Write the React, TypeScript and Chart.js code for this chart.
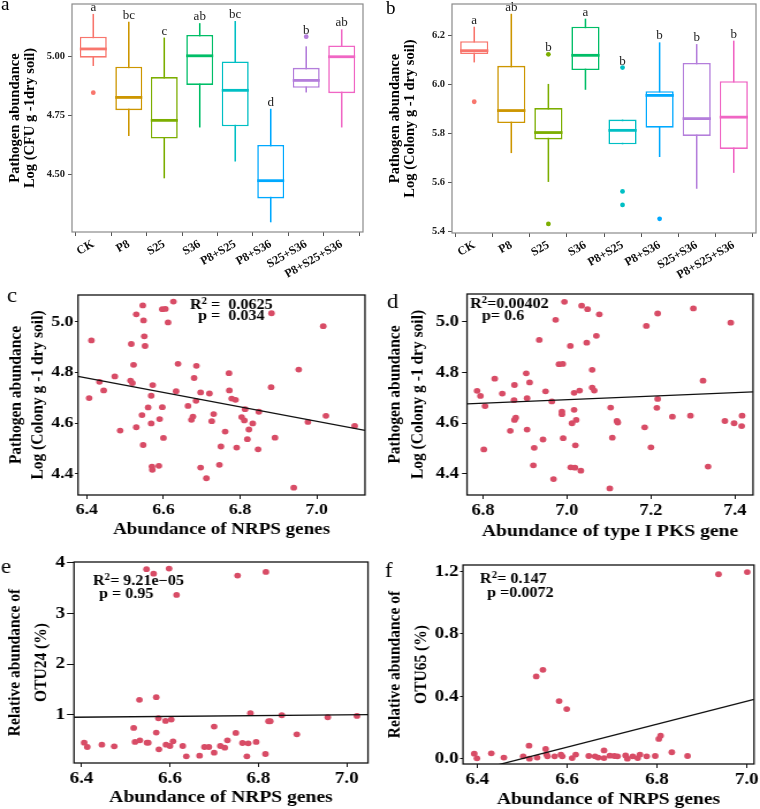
import React, { useEffect, useRef } from "react";
import { Chart, registerables } from "chart.js";

Chart.register(...registerables);

const SERIF = "'Liberation Serif', 'Times New Roman', Times, serif";

// ---------------- panels a / b : box plots ----------------
const groups = ["CK", "P8", "S25", "S36", "P8+S25", "P8+S36", "S25+S36", "P8+S25+S36"];
const groupColors = ["#F8766D", "#CD9600", "#7CAE00", "#00BE67", "#00BFC4", "#00A9FF", "#B47EDB", "#F066C4"];

const aLower = [4.958, 4.662, 4.483, 4.698, 4.554, 4.297, 4.846, 4.698];
const aQ1 = [4.993, 4.771, 4.651, 4.878, 4.703, 4.398, 4.866, 4.843];
const aMedian = [5.03, 4.825, 4.728, 5.001, 4.855, 4.473, 4.897, 4.997];
const aQ3 = [5.082, 4.955, 4.911, 5.089, 4.977, 4.624, 4.95, 5.045];
const aUpper = [5.178, 5.145, 5.078, 5.139, 5.148, 4.777, 5.041, 5.113];
const aOutliers = [[4.845], [], [], [], [], [], [5.082], []];
const aLetters = ["a", "bc", "c", "ab", "bc", "d", "b", "ab"];
const aYTicks = [4.5, 4.75, 5.0];

const bLower = [6.091, 5.72, 5.602, 5.979, 5.756, 5.704, 5.574, 5.639];
const bQ1 = [6.125, 5.843, 5.776, 6.06, 5.756, 5.824, 5.79, 5.737];
const bMedian = [6.139, 5.894, 5.804, 6.12, 5.813, 5.956, 5.861, 5.867];
const bQ3 = [6.178, 6.077, 5.904, 6.237, 5.857, 5.973, 6.089, 6.014];
const bUpper = [6.237, 6.29, 6.003, 6.27, 5.857, 6.173, 6.166, 6.18];
const bOutliers = [[5.93], [], [6.124, 5.43], [], [6.07, 5.563, 5.508], [5.451], [], []];
const bLetters = ["a", "ab", "b", "a", "b", "b", "b", "b"];
const bYTicks = [5.4, 5.6, 5.8, 6.0, 6.2];

// ---------------- panel c ----------------
const cNRPS = [
  6.406, 6.412, 6.433, 6.444, 6.473, 6.487, 6.516, 6.514, 6.519, 6.522,
  6.529, 6.544, 6.547, 6.55, 6.552, 6.548, 6.56, 6.568, 6.568, 6.572,
  6.57, 6.571, 6.588, 6.59, 6.597, 6.6, 6.612, 6.633, 6.638, 6.664,
  6.673, 6.677, 6.68, 6.685, 6.686, 6.697, 6.697, 6.712, 6.72, 6.726,
  6.731, 6.746, 6.75, 6.761, 6.771, 6.772, 6.778, 6.788, 6.791, 6.804,
  6.811, 6.813, 6.819, 6.823, 6.833, 6.847, 6.849, 6.881, 6.891, 6.953,
  6.977, 7.017, 7.024, 6.94, 7.099,
  6.529, 6.546, 6.597, 6.605, 6.626, 6.882,
];
const cPathogen = [
  4.699, 4.926, 4.763, 4.729, 4.784, 4.571, 4.912, 4.768, 4.758, 4.83,
  4.584, 4.632, 4.514, 4.942, 4.904, 5.005, 4.662, 4.708, 4.599, 4.75,
  4.429, 4.416, 4.432, 4.616, 4.663, 4.542, 4.997, 4.726, 4.834, 4.668,
  4.613, 4.626, 4.778, 4.688, 4.826, 4.721, 4.425, 4.383, 4.717, 4.608,
  4.636, 4.436, 4.508, 4.567, 4.797, 4.729, 4.697, 4.692, 4.504, 4.624,
  4.611, 4.655, 4.537, 4.575, 4.599, 4.497, 4.645, 4.742, 4.543, 4.811,
  4.605, 4.982, 4.629, 4.346, 4.589,
  5.029, 5.064, 5.049, 5.05, 5.079, 5.033,
];
const cFit = [6.595, -0.284]; // intercept, slope
const cXTicks = [6.4, 6.6, 6.8, 7.0];
const cYTicks = [4.4, 4.6, 4.8, 5.0];

// ---------------- panel d ----------------
const dPKS = [
  6.786, 6.794, 6.805, 6.802, 6.828, 6.846, 6.865, 6.875, 6.874, 6.875,
  6.878, 6.903, 6.905, 6.905, 6.911, 6.922, 6.92, 6.943, 6.949, 6.964,
  6.968, 6.988, 6.988, 6.991, 7.009, 7.019, 7.033, 7.012, 7.017, 7.017,
  7.02, 7.022, 7.03, 7.06, 7.065, 7.06, 7.104, 7.108, 7.102, 7.119,
  7.121, 7.185, 7.2, 7.216, 7.214, 7.251, 7.294, 7.324, 7.336, 7.376,
  7.398, 7.416, 7.417,
  6.934, 7.008, 7.047, 7.07, 6.981, 6.99, 7.189, 7.39,
  6.994, 7.035, 7.049, 7.077, 6.973, 7.216, 7.301,
];
const dPathogen = [
  4.728, 4.708, 4.668, 4.497, 4.776, 4.717, 4.57, 4.751, 4.691, 4.613,
  4.622, 4.797, 4.699, 4.575, 4.761, 4.503, 4.434, 4.536, 4.726, 4.686,
  4.38, 4.646, 4.636, 4.541, 4.426, 4.425, 4.413, 4.6, 4.653, 4.72,
  4.513, 4.613, 4.729, 4.741, 4.729, 4.811, 4.662, 4.543, 4.343, 4.609,
  4.603, 4.584, 4.505, 4.696, 4.661, 4.626, 4.63, 4.768, 4.429, 4.609,
  4.6, 4.589, 4.63,
  4.929, 4.905, 4.918, 4.945, 4.833, 4.834, 4.984, 4.997,
  5.079, 5.064, 5.05, 5.03, 5.008, 5.033, 5.053,
];
const dFit = [4.203, 0.07];
const dXTicks = [6.8, 7.0, 7.2, 7.4];
const dYTicks = [4.4, 4.6, 4.8, 5.0];

// ---------------- panel e ----------------
const eNRPS = [
  6.406, 6.413, 6.446, 6.474, 6.518, 6.521, 6.532, 6.531, 6.548, 6.551,
  6.569, 6.569, 6.574, 6.575, 6.59, 6.591, 6.6, 6.603, 6.607, 6.629,
  6.637, 6.667, 6.678, 6.688, 6.7, 6.7, 6.714, 6.724, 6.73, 6.749,
  6.764, 6.777, 6.774, 6.782, 6.795, 6.816, 6.823, 6.827, 6.853, 6.887,
  6.957, 7.023, 6.615,
  6.547, 6.563, 6.598, 6.753, 6.817,
];
const eOTU24 = [
  0.454, 0.368, 0.414, 0.382, 0.743, 0.467, 0.5, 1.296, 0.454, 0.454,
  1.349, 0.651, 0.934, 0.322, 0.882, 0.414, 0.388, 0.908, 0.48, 0.388,
  0.184, 0.197, 0.368, 0.368, 0.77, 0.257, 0.388, 0.355, 0.5, 0.645,
  0.447, 0.441, 0.184, 1.033, 0.467, 0.23, 0.875, 0.875, 0.993, 0.618,
  0.954, 0.98, 3.362,
  3.868, 3.781, 3.88, 3.742, 3.815,
];
const eFit = [0.443, 0.08];
const eXTicks = [6.4, 6.6, 6.8, 7.0];
const eYTicks = [1, 2, 3, 4];

// ---------------- panel f ----------------
const fNRPS = [
  6.393, 6.399, 6.431, 6.459, 6.502, 6.515, 6.516, 6.531, 6.533, 6.546,
  6.552, 6.554, 6.556, 6.572, 6.582, 6.586, 6.589, 6.599, 6.611, 6.619,
  6.648, 6.662, 6.669, 6.682, 6.682, 6.695, 6.705, 6.712, 6.73, 6.734,
  6.746, 6.757, 6.762, 6.777, 6.796, 6.804, 6.808, 6.833, 6.868,
  6.937, 7.001,
];
const fOTU65 = [
  0.034, 0.004, 0.036, 0.009, 0.017, 0.085, 0.002, 0.528, 0.009, 0.57,
  0.064, 0.03, 0.017, 0.017, 0.37, 0.028, 0.017, 0.319, 0.006, 0.028,
  0.019, 0.017, 0.009, 0.055, 0.006, 0.021, 0.019, 0.017, 0.023, 0.002,
  0.017, 0.006, 0.028, 0.017, 0.019, 0.128, 0.149, 0.043, 0.019,
  1.181, 1.195,
];
const fFit = [-4.775, 0.735];
const fXTicks = [6.4, 6.6, 6.8, 7.0];
const fYTicks = [0.0, 0.4, 0.8, 1.2];

// ---------------- plugins ----------------
function framePlugin(color: string, width: number) {
  return {
    id: "frame",
    afterDraw(chart: any) {
      const { ctx, chartArea } = chart;
      const { left, top, right, bottom } = chartArea;
      ctx.save();
      ctx.strokeStyle = color;
      ctx.lineWidth = width;
      ctx.strokeRect(left, top, right - left, bottom - top);
      ctx.restore();
    },
  };
}

function panelLabelPlugin(text: string, x: number, y: number, size: number) {
  return {
    id: "panelLabel",
    afterDraw(chart: any) {
      const { ctx } = chart;
      ctx.save();
      ctx.font = `${size}px ${SERIF}`;
      ctx.fillStyle = "#000";
      ctx.textAlign = "left";
      ctx.textBaseline = "alphabetic";
      ctx.fillText(text, x, y);
      ctx.restore();
    },
  };
}

function lettersPlugin(letters: string[], tops: number[]) {
  return {
    id: "sigLetters",
    afterDatasetsDraw(chart: any) {
      const { ctx, scales } = chart;
      ctx.save();
      ctx.font = `13px ${SERIF}`;
      ctx.fillStyle = "#222";
      ctx.textAlign = "center";
      ctx.textBaseline = "alphabetic";
      letters.forEach((t, i) => {
        ctx.fillText(t, scales.x.getPixelForValue(i + 1), scales.y.getPixelForValue(tops[i]) - 3);
      });
      ctx.restore();
    },
  };
}

type Part = { t: string; sup?: boolean };
type StatLine = { dx: number; dy: number; parts: Part[] };

function statPlugin(lines: StatLine[], size: number, k: number) {
  return {
    id: "statText",
    afterDraw(chart: any) {
      const { ctx, chartArea } = chart;
      ctx.save();
      ctx.fillStyle = "#000";
      ctx.textAlign = "left";
      ctx.textBaseline = "alphabetic";
      lines.forEach((ln) => {
        let x = chartArea.left + ln.dx / k;
        const y = chartArea.top + ln.dy;
        ln.parts.forEach((p) => {
          const s = p.sup ? size * 0.68 : size;
          ctx.font = `bold ${s}px ${SERIF}`;
          ctx.fillText(p.t, x, p.sup ? y - size * 0.36 : y);
          x += ctx.measureText(p.t).width;
        });
      });
      ctx.restore();
    },
  };
}

// ---------------- config builders ----------------
type Area = { left: number; top: number; right: number; bottom: number };

type BoxSpec = {
  lower: number[]; q1: number[]; median: number[]; q3: number[]; upper: number[];
  outliers: number[][]; letters: string[]; yTicks: number[]; yMin: number; yMax: number;
  decimals: number; yTitle: string[]; label: string; labelX: number; labelY: number;
  area: Area; W: number; H: number;
};

function boxConfig(s: BoxSpec) {
  const datasets: any[] = [];
  groups.forEach((g, i) => {
    datasets.push({
      type: "line",
      data: [{ x: i + 1, y: s.lower[i] }, { x: i + 1, y: s.upper[i] }],
      borderColor: groupColors[i], borderWidth: 1.6, pointRadius: 0, order: 3,
    });
  });
  datasets.push({
    type: "bar",
    data: groups.map((g, i) => ({ x: i + 1, y: [s.q1[i], s.q3[i]] })),
    backgroundColor: "#ffffff",
    borderColor: groupColors,
    borderWidth: 1.6,
    borderSkipped: false,
    categoryPercentage: 0.76,
    barPercentage: 1,
    order: 2,
  });
  groups.forEach((g, i) => {
    datasets.push({
      type: "line",
      data: [{ x: i + 1 - 0.38, y: s.median[i] }, { x: i + 1 + 0.38, y: s.median[i] }],
      borderColor: groupColors[i], borderWidth: 2.8, pointRadius: 0, order: 1,
    });
  });
  const outPts: any[] = [];
  const outCols: string[] = [];
  s.outliers.forEach((list, i) => list.forEach((v) => { outPts.push({ x: i + 1, y: v }); outCols.push(groupColors[i]); }));
  datasets.push({
    type: "scatter", data: outPts, backgroundColor: outCols, borderWidth: 0, pointRadius: 2.4, order: 0,
  });
  const tops = groups.map((g, i) => Math.max(s.upper[i], ...s.outliers[i]));

  const tickFont = { family: SERIF, size: 10.5, weight: "bold" as const };
  return {
    type: "scatter",
    data: { datasets },
    plugins: [lettersPlugin(s.letters, tops), framePlugin("#8a8a8a", 1.2), panelLabelPlugin(s.label, s.labelX, s.labelY, 19)],
    options: {
      animation: false,
      responsive: false,
      devicePixelRatio: 1,
      events: [],
      layout: { padding: { left: 0, top: s.area.top, right: s.W - s.area.right, bottom: 0 } },
      plugins: { legend: { display: false }, tooltip: { enabled: false } },
      scales: {
        x: {
          type: "linear", min: 0.4, max: 8.6, offset: false,
          afterBuildTicks: (sc: any) => { sc.ticks = groups.map((g, i) => ({ value: i + 1 })); },
          afterFit: (sc: any) => { sc.height = s.H - s.area.bottom; sc.paddingLeft = 0; sc.paddingRight = 0; },
          ticks: {
            autoSkip: false, minRotation: 30, maxRotation: 30, padding: 1, color: "#111",
            font: { family: SERIF, size: 12, weight: "bold" },
            callback: (v: number) => groups[Math.round(v) - 1] ?? "",
          },
          grid: { drawOnChartArea: false, drawTicks: true, tickLength: 4, tickColor: "#555", tickWidth: 1 },
          border: { display: false },
        },
        y: {
          type: "linear", min: s.yMin, max: s.yMax,
          afterBuildTicks: (sc: any) => { sc.ticks = s.yTicks.map((v) => ({ value: v })); },
          afterFit: (sc: any) => { sc.width = s.area.left; sc.paddingTop = 0; sc.paddingBottom = 0; },
          ticks: { padding: 3, color: "#222", font: tickFont, callback: (v: number) => Number(v).toFixed(s.decimals) },
          grid: { drawOnChartArea: false, drawTicks: true, tickLength: 4, tickColor: "#555", tickWidth: 1 },
          border: { display: false },
          title: {
            display: true, text: s.yTitle, color: "#000",
            font: { family: SERIF, size: 14.5, weight: "bold", lineHeight: 15 / 14.5 },
            padding: { top: 7.5, bottom: 0 },
          },
        },
      },
    },
  };
}

type ScatterSpec = {
  xs: number[]; ys: number[]; fit: number[];
  xMin: number; xMax: number; yMin: number; yMax: number;
  xTicks: number[]; yTicks: number[]; yDecimals: number;
  xTitle: string; xTitleSize: number; xTitleCenter: number;
  yTitle: string[]; yTitleSize: number; yLine1: number; yLine2: number;
  tickSize: number; yTickLen: number; yTickPad: number; xTickPad: number;
  area: Area; cssW: number; H: number;
  label: string; labelX: number; labelY: number;
  stats: StatLine[];
};

function scatterConfig(s: ScatterSpec, k: number) {
  const X = (v: number) => v / k;
  const lh = X(s.yLine2 - s.yLine1);
  const tickFont = { family: SERIF, size: s.tickSize, weight: "bold" as const };
  return {
    type: "scatter",
    data: {
      datasets: [
        {
          type: "line",
          data: [
            { x: s.xMin, y: s.fit[0] + s.fit[1] * s.xMin },
            { x: s.xMax, y: s.fit[0] + s.fit[1] * s.xMax },
          ],
          borderColor: "#111", borderWidth: 1.3, pointRadius: 0, order: 0,
        },
        {
          type: "scatter",
          data: s.xs.map((x, i) => ({ x, y: s.ys[i] })),
          backgroundColor: "#D84C66", borderWidth: 0, pointRadius: 2.9, order: 1,
        },
      ],
    },
    plugins: [
      framePlugin("#111", 1.3),
      statPlugin(s.stats, 14, k),
      panelLabelPlugin(s.label, X(s.labelX), s.labelY, 20),
    ],
    options: {
      animation: false,
      responsive: false,
      devicePixelRatio: 1,
      events: [],
      layout: { padding: { left: 0, top: s.area.top, right: X(s.cssW - s.area.right), bottom: 0 } },
      plugins: { legend: { display: false }, tooltip: { enabled: false } },
      scales: {
        x: {
          type: "linear", min: s.xMin, max: s.xMax,
          afterBuildTicks: (sc: any) => { sc.ticks = s.xTicks.map((v) => ({ value: v })); },
          afterFit: (sc: any) => { sc.height = s.H - s.area.bottom; sc.paddingLeft = 0; sc.paddingRight = 0; },
          ticks: {
            autoSkip: false, maxRotation: 0, minRotation: 0, padding: s.xTickPad, color: "#000",
            font: tickFont, callback: (v: number) => Number(v).toFixed(1),
          },
          grid: { drawOnChartArea: false, drawTicks: true, tickLength: 4, tickColor: "#111", tickWidth: 1 },
          border: { display: false },
          title: {
            display: true, text: s.xTitle, color: "#000",
            font: { family: SERIF, size: s.xTitleSize, weight: "bold", lineHeight: 1 },
            padding: { top: 0, bottom: Math.max(0, s.H - s.xTitleCenter - s.xTitleSize / 2) },
          },
        },
        y: {
          type: "linear", min: s.yMin, max: s.yMax,
          afterBuildTicks: (sc: any) => { sc.ticks = s.yTicks.map((v) => ({ value: v })); },
          afterFit: (sc: any) => { sc.width = X(s.area.left); sc.paddingTop = 0; sc.paddingBottom = 0; },
          ticks: { padding: X(s.yTickPad), color: "#000", font: tickFont, callback: (v: number) => Number(v).toFixed(s.yDecimals) },
          grid: { drawOnChartArea: false, drawTicks: true, tickLength: X(s.yTickLen), tickColor: "#111", tickWidth: 1 },
          border: { display: false },
          title: {
            display: true, text: s.yTitle, color: "#000",
            font: { family: SERIF, size: s.yTitleSize, weight: "bold", lineHeight: lh / s.yTitleSize },
            padding: { top: Math.max(0, X(s.yLine1) - lh / 2), bottom: 0 },
          },
        },
      },
    },
  };
}

// ---------------- components ----------------
function ChartCanvas(props: { left: number; top: number; width: number; height: number; sx: number; make: (k: number) => any }) {
  const { left, top, width, height, sx, make } = props;
  const ref = useRef<HTMLCanvasElement | null>(null);
  const iw = Math.round(width / sx);
  useEffect(() => {
    const k = width / iw;
    const chart = new Chart(ref.current as HTMLCanvasElement, make(k));
    return () => chart.destroy();
  }, []);
  return (
    <canvas
      ref={ref}
      width={iw}
      height={height}
      style={{ position: "absolute", left, top, width, height }}
    />
  );
}

const LOW_SX = 1.15;
const pathogenTitle = ["Pathogen abundance", "Log (Colony g -1 dry soil)"];

export default function App() {
  return (
    <div style={{ position: "absolute", left: 0, top: 0, width: 760, height: 809, background: "#fff", overflow: "hidden" }}>
      <ChartCanvas left={0} top={0} width={380} height={290} sx={1}
        make={() => boxConfig({
          lower: aLower, q1: aQ1, median: aMedian, q3: aQ3, upper: aUpper, outliers: aOutliers,
          letters: aLetters, yTicks: aYTicks, yMin: 4.256, yMax: 5.22, decimals: 2,
          yTitle: ["Pathogen abundance", "Log (CFU g -1dry soil)"], label: "a", labelX: 1, labelY: 10,
          area: { left: 72, top: 4, right: 363, bottom: 232 }, W: 380, H: 290,
        })} />
      <ChartCanvas left={380} top={0} width={380} height={290} sx={1}
        make={() => boxConfig({
          lower: bLower, q1: bQ1, median: bMedian, q3: bQ3, upper: bUpper, outliers: bOutliers,
          letters: bLetters, yTicks: bYTicks, yMin: 5.393, yMax: 6.33, decimals: 1,
          yTitle: ["Pathogen abundance", "Log (Colony g -1 dry soil)"], label: "b", labelX: 6, labelY: 14,
          area: { left: 72, top: 3, right: 377, bottom: 233 }, W: 380, H: 290,
        })} />
      <ChartCanvas left={0} top={290} width={380} height={260} sx={LOW_SX}
        make={(k) => scatterConfig({
          xs: cNRPS, ys: cPathogen, fit: cFit, xMin: 6.377, xMax: 7.126, yMin: 4.317, yMax: 5.105,
          xTicks: cXTicks, yTicks: cYTicks, yDecimals: 1,
          xTitle: "Abundance of NRPS genes", xTitleSize: 16.5, xTitleCenter: 240,
          yTitle: pathogenTitle, yTitleSize: 15.5, yLine1: 15.7, yLine2: 38.3,
          tickSize: 15.5, yTickLen: 3, yTickPad: 1.5, xTickPad: 2,
          area: { left: 78, top: 5, right: 365, bottom: 205 }, cssW: 380, H: 260,
          label: "c", labelX: 7, labelY: 12,
          stats: [
            { dx: 112, dy: 14, parts: [{ t: "R" }, { t: "2", sup: true }, { t: " =  0.0625" }] },
            { dx: 120, dy: 25, parts: [{ t: "p =  0.034" }] },
          ],
        }, k)} />
      <ChartCanvas left={380} top={290} width={380} height={260} sx={LOW_SX}
        make={(k) => scatterConfig({
          xs: dPKS, ys: dPathogen, fit: dFit, xMin: 6.762, xMax: 7.443, yMin: 4.317, yMax: 5.11,
          xTicks: dXTicks, yTicks: dYTicks, yDecimals: 1,
          xTitle: "Abundance of type I PKS gene", xTitleSize: 17, xTitleCenter: 241.7,
          yTitle: pathogenTitle, yTitleSize: 15.5, yLine1: 15, yLine2: 38.3,
          tickSize: 16, yTickLen: 5, yTickPad: 3, xTickPad: 2,
          area: { left: 87, top: 4, right: 373, bottom: 205 }, cssW: 380, H: 260,
          label: "d", labelX: 7, labelY: 18,
          stats: [
            { dx: 3, dy: 14, parts: [{ t: "R" }, { t: "2", sup: true }, { t: "=0.00402" }] },
            { dx: 15, dy: 26, parts: [{ t: "p= 0.6" }] },
          ],
        }, k)} />
      <ChartCanvas left={0} top={550} width={380} height={259} sx={LOW_SX}
        make={(k) => scatterConfig({
          xs: eNRPS, ys: eOTU24, fit: eFit, xMin: 6.383, xMax: 7.048, yMin: 0.053, yMax: 4.01,
          xTicks: eXTicks, yTicks: eYTicks, yDecimals: 0,
          xTitle: "Abundance of NRPS genes", xTitleSize: 17, xTitleCenter: 247.3,
          yTitle: ["Relative abundance of", "OTU24 (%)"], yTitleSize: 15.5, yLine1: 15, yLine2: 41,
          tickSize: 16.5, yTickLen: 7, yTickPad: 2, xTickPad: 2,
          area: { left: 74, top: 12, right: 368, bottom: 213 }, cssW: 380, H: 259,
          label: "e", labelX: 1, labelY: 23,
          stats: [
            { dx: 19, dy: 23, parts: [{ t: "R" }, { t: "2", sup: true }, { t: "= 9.21e\u221205" }] },
            { dx: 25, dy: 36, parts: [{ t: "p = 0.95" }] },
          ],
        }, k)} />
      <ChartCanvas left={380} top={550} width={380} height={259} sx={LOW_SX}
        make={(k) => scatterConfig({
          xs: fNRPS, ys: fOTU65, fit: fFit, xMin: 6.368, xMax: 7.016, yMin: -0.032, yMax: 1.24,
          xTicks: fXTicks, yTicks: fYTicks, yDecimals: 1,
          xTitle: "Abundance of NRPS genes", xTitleSize: 17, xTitleCenter: 250,
          yTitle: ["Relative abundance of", "OTU65 (%)"], yTitleSize: 15.5, yLine1: 15, yLine2: 41.7,
          tickSize: 16.5, yTickLen: 3, yTickPad: 1.5, xTickPad: 2,
          area: { left: 83, top: 15, right: 374, bottom: 214 }, cssW: 380, H: 259,
          label: "f", labelX: 5, labelY: 27,
          stats: [
            { dx: 17, dy: 18, parts: [{ t: "R" }, { t: "2", sup: true }, { t: "= 0.147" }] },
            { dx: 24, dy: 32, parts: [{ t: "p =0.0072" }] },
          ],
        }, k)} />
    </div>
  );
}
